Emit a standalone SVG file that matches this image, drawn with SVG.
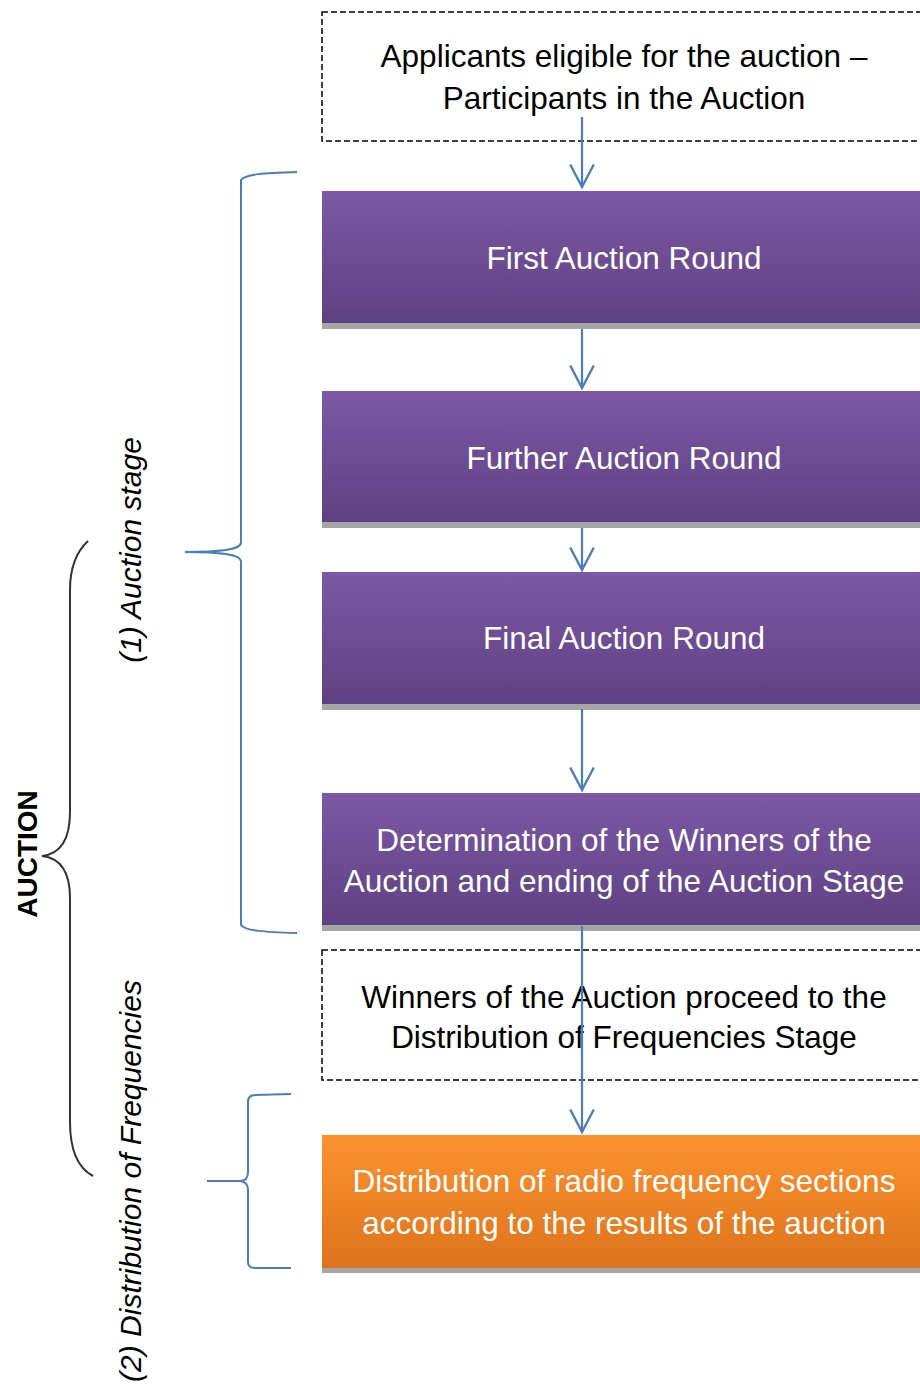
<svg xmlns="http://www.w3.org/2000/svg" width="920" height="1385" viewBox="0 0 920 1385">
<style>
.t{font-family:"Liberation Sans",Arial,sans-serif;font-size:31.5px;text-anchor:middle}
.w{fill:#ffffff}
.k{fill:#000000}
.dash{fill:#ffffff;stroke:#000;stroke-width:1.5;stroke-dasharray:6,3}
.sh{fill:#a6a6a6}
.conn{stroke:#4a7ebb;stroke-width:2.2;fill:none}
.br{stroke:#4a7ebb;stroke-width:2;fill:none}
.vt{font-family:"Liberation Sans",Arial,sans-serif;font-size:30px;font-style:italic;text-anchor:middle;fill:#000}
</style>
<defs>
<linearGradient id="gp" x1="0" y1="0" x2="0" y2="1">
<stop offset="0" stop-color="#7d58a5"/><stop offset="1" stop-color="#5e4182"/>
</linearGradient>
<linearGradient id="go" x1="0" y1="0" x2="0" y2="1">
<stop offset="0" stop-color="#fd922f"/><stop offset="1" stop-color="#dc741d"/>
</linearGradient>
<marker id="ah" markerUnits="userSpaceOnUse" markerWidth="30" markerHeight="30" viewBox="-24 -14 28 28" refX="0" refY="0" orient="auto">
<path d="M-21,-11 L0,0 L-21,11" fill="none" stroke="#4a7ebb" stroke-width="2.2"/>
</marker>
</defs>
<rect width="920" height="1385" fill="#ffffff"/>

<g id="n-applicants">
<rect class="dash" x="322" y="12" width="620" height="129"/>
<text class="t k" x="624" y="67">Applicants eligible for the auction –</text>
<text class="t k" x="624" y="109">Participants in the Auction</text>
</g>

<g id="n-first">
<rect class="sh" x="322" y="196" width="610" height="133"/>
<rect x="322" y="191" width="610" height="132" fill="url(#gp)"/>
<text class="t w" x="624" y="269">First Auction Round</text>
</g>

<g id="n-further">
<rect class="sh" x="322" y="396" width="610" height="132"/>
<rect x="322" y="391" width="610" height="131" fill="url(#gp)"/>
<text class="t w" x="624" y="469">Further Auction Round</text>
</g>

<g id="n-final">
<rect class="sh" x="322" y="577" width="610" height="133"/>
<rect x="322" y="572" width="610" height="132" fill="url(#gp)"/>
<text class="t w" x="624" y="649">Final Auction Round</text>
</g>

<g id="n-determination">
<rect class="sh" x="322" y="798" width="610" height="133"/>
<rect x="322" y="793" width="610" height="132" fill="url(#gp)"/>
<text class="t w" x="624" y="851">Determination of the Winners of the</text>
<text class="t w" x="624" y="892">Auction and ending of the Auction Stage</text>
</g>

<g id="n-winners">
<rect class="dash" x="322" y="950" width="620" height="130"/>
<text class="t k" x="624" y="1008">Winners of the Auction proceed to the</text>
<text class="t k" x="624" y="1048">Distribution of Frequencies Stage</text>
</g>

<g id="n-distribution">
<rect class="sh" x="322" y="1140" width="610" height="133"/>
<rect x="322" y="1135" width="610" height="133" fill="url(#go)"/>
<text class="t w" x="624" y="1192">Distribution of radio frequency sections</text>
<text class="t w" x="624" y="1234">according to the results of the auction</text>
</g>

<g id="connectors">
<line class="conn" x1="582" y1="117" x2="582" y2="187" marker-end="url(#ah)"/>
<line class="conn" x1="582" y1="329" x2="582" y2="388" marker-end="url(#ah)"/>
<line class="conn" x1="582" y1="528" x2="582" y2="570" marker-end="url(#ah)"/>
<line class="conn" x1="582" y1="709" x2="582" y2="790" marker-end="url(#ah)"/>
<line class="conn" x1="582" y1="926" x2="582" y2="1132" marker-end="url(#ah)"/>
</g>

<g id="brace-auction-stage">
<path class="br" d="M297,172 C265,173 245,174 241,180 L241,543 C240,549 225,552 185,552 C225,552 240,555 241,561 L241,925 C245,931 265,932 297,933"/>
<text class="vt" transform="translate(141,550) rotate(-90)">(1) Auction stage</text>
</g>

<g id="brace-distribution">
<path class="br" d="M291,1094 L255,1095 Q248,1095 248,1102 L248,1172 Q248,1181 240,1181 L207,1181 M240,1181 Q248,1182 248,1190 L248,1262 Q248,1268 255,1268 L291,1268"/>
<text class="vt" transform="translate(141,1181) rotate(-90)">(2) Distribution of Frequencies</text>
</g>

<g id="brace-auction">
<path d="M88,541 C75,553 70,570 70,590 L70,812 C70,840 60,854 42,856 C60,858 70,872 70,898 L70,1122 C70,1150 78,1168 93,1176" fill="none" stroke="#333" stroke-width="2"/>
<text transform="translate(37,854) rotate(-90)" style="font-family:'Liberation Sans',Arial,sans-serif;font-size:28px;font-weight:bold;text-anchor:middle;fill:#000">AUCTION</text>
</g>
</svg>
